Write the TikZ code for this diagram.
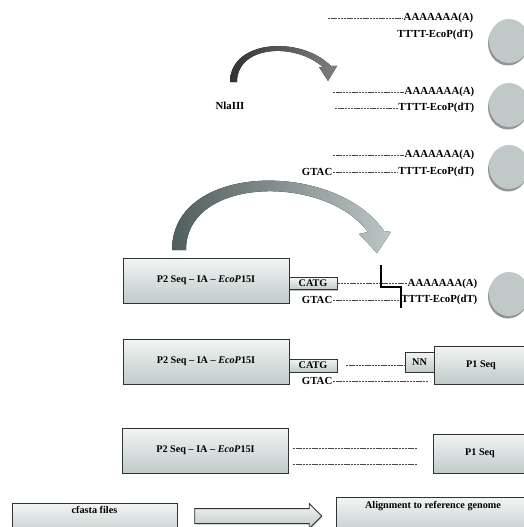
\documentclass[tikz,border=0pt]{standalone}
\usepackage{fontspec}
\setmainfont{Liberation Serif}
\usetikzlibrary{shapes.geometric, shapes.arrows, shadows, positioning}

\definecolor{boxgray}{RGB}{192,203,202}
\definecolor{beadgray}{RGB}{192,201,200}
\definecolor{dnagray}{RGB}{70,70,70}
\definecolor{arrowdark}{RGB}{80,94,94}
\definecolor{arrowlight}{RGB}{188,198,197}

\tikzset{
	txt/.style={font=\bfseries\fontsize{10.8}{12}\selectfont, inner sep=0.5pt},
	seqbox/.style={draw=black!80, line width=0.6pt, top color=boxgray!20, bottom color=boxgray,
		drop shadow={shadow xshift=0.7pt, shadow yshift=-1.2pt, opacity=0.5},
		font=\bfseries\fontsize{10.2}{12}\selectfont, inner sep=0pt},
	bead/.style={ellipse, minimum width=40pt, minimum height=44pt, fill=beadgray,
		drop shadow={shadow xshift=-1pt, shadow yshift=-2.5pt, opacity=0.6, fill=black!70}},
	dna/.style={dnagray, line width=0.55pt, dash pattern=on 2.4pt off 0.8pt},
}

\begin{document}
\begin{tikzpicture}[x=1pt, y=-1pt]
	\useasboundingbox (0,0) rectangle (524,527);
	
	% beads
	\node[bead] (b1) at (509,41) {};
	\node[bead] (b2) at (509,105) {};
	\node[bead] (b3) at (509,167) {};
	\node[bead] (b4) at (509,294) {};
	
	% captured strands
	\node[txt, anchor=east] (pa1) at (474,18) {AAAAAAA(A)};
	\node[txt, anchor=east] (pt1) at (474,35) {TTTT-EcoP(dT)};
	\coordinate (s1) at (328,18);
	\draw[dna] (s1) -- (pa1.west);
	
	\node[txt, anchor=east] (pa2) at (475,92) {AAAAAAA(A)};
	\node[txt, anchor=east] (pt2) at (475,108) {TTTT-EcoP(dT)};
	\coordinate (s2) at (333,92);
	\coordinate (s3) at (335,108);
	\draw[dna] (s2) -- (pa2.west);
	\draw[dna] (s3) -- (pt2.west);
	
	\node[txt, anchor=east] (pa3) at (475,155) {AAAAAAA(A)};
	\node[txt, anchor=east] (pt3) at (475,172) {TTTT-EcoP(dT)};
	\node[txt, anchor=east] (g3) at (333,172) {GTAC};
	\coordinate (s4) at (333,155);
	\draw[dna] (s4) -- (pa3.west);
	\draw[dna] (g3.east) -- (pt3.west);
	
	% NlaIII digestion
	\node[txt] (nla) at (230,106) {NlaIII};
	\fill[left color=black!80, right color=black!50]
		(230,82) .. controls (230,40) and (300,35) .. (331,66) -- (337,66) -- (328,81)
		-- (319,67) -- (324,68) .. controls (296,42) and (237,45) .. (237,82) -- cycle;
	
	% adaptor ligation
	\fill[left color=arrowdark, right color=arrowlight]
		(172,250) .. controls (172,162) and (335,160) .. (384,231) -- (391,232) -- (377,253)
		-- (359,234) -- (368,232) .. controls (325,174) and (186,176) .. (186,250) -- cycle;
	
	\node[seqbox, minimum width=166pt, minimum height=45pt] (p2a) at (206,280.5) {P2 Seq -- IA -- \textit{EcoP}15I};
	\node[seqbox, minimum width=48pt, minimum height=12pt] (c4) at (313,283.5) {CATG};
	\node[txt, anchor=east] (pa4) at (478,283.5) {AAAAAAA(A)};
	\node[txt, anchor=east] (g4) at (333,300) {GTAC};
	\node[txt, anchor=east] (pt4) at (478,300) {TTTT-EcoP(dT)};
	\draw[dna] (c4.east) -- (pa4.west);
	\draw[dna] (g4.east) -- (pt4.west);
	\draw[line width=1.6pt] (381,265) -- (381,287) -- (401,287) -- (401,308);
	
	% tag release
	\node[seqbox, minimum width=166pt, minimum height=45pt] (p2b) at (206,361.5) {P2 Seq -- IA -- \textit{EcoP}15I};
	\node[seqbox, minimum width=48pt, minimum height=13pt] (c5) at (313,365.5) {CATG};
	\node[seqbox, minimum width=29pt, minimum height=20pt] (nn) at (419.5,362) {NN};
	\node[seqbox, minimum width=94pt, minimum height=38pt] (p1a) at (481,365) {P1 Seq};
	\node[txt, anchor=east] (g5) at (333,381) {GTAC};
	\coordinate (s5) at (346,365);
	\coordinate (e5) at (428,381);
	\draw[dna] (s5) -- (s5 -| nn.west);
	\draw[dna] (g5.east) -- (e5);
	
	% final library
	\node[seqbox, minimum width=166pt, minimum height=45pt] (p2c) at (205.5,450.5) {P2 Seq -- IA -- \textit{EcoP}15I};
	\node[seqbox, minimum width=94pt, minimum height=39pt] (p1b) at (480,453.5) {P1 Seq};
	\coordinate (s6) at (293,448);
	\coordinate (e6) at (417,448);
	\coordinate (s7) at (293,464);
	\coordinate (e7) at (417,464);
	\draw[dna] (s6) -- (e6);
	\draw[dna] (s7) -- (e7);
	
	% sequencing output
	\node[seqbox, anchor=north, minimum width=165pt, text height=7pt, text depth=22pt, inner ysep=3pt] (cf) at (94.5,503) {cfasta files};
	\node[seqbox, anchor=north, minimum width=194pt, text height=7pt, text depth=24pt, inner ysep=4pt] (al) at (433,497) {Alignment to reference genome};
	\node[seqbox, single arrow, single arrow head extend=5pt, inner xsep=0pt, inner ysep=7pt,
		minimum height=127pt, line width=0.8pt] (go) at (254.5,516) {};
\end{tikzpicture}
\end{document}
